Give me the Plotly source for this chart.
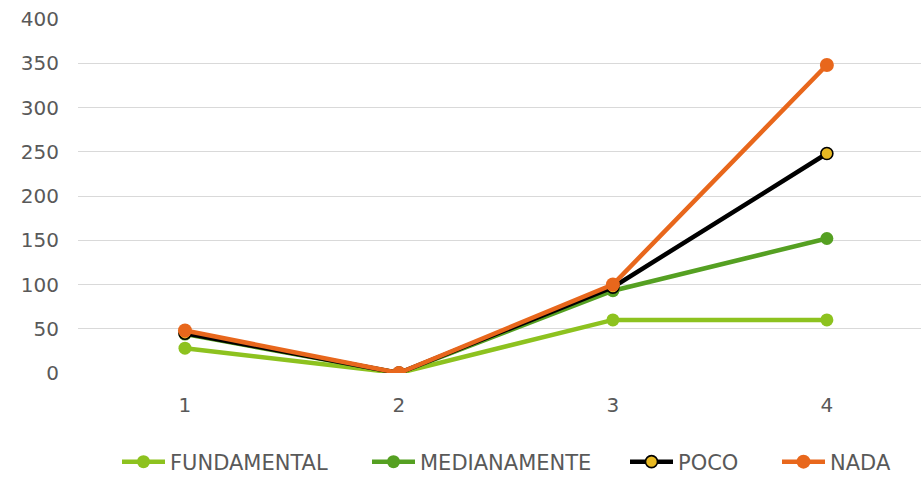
import plotly.graph_objects as go

categories = ["1", "2", "3", "4"]
fundamental = [28, 0, 60, 60]
medianamente = [44, 0, 93, 152]
poco = [45, 0, 97, 248]
nada = [48, 0, 100, 348]
y_ticks = [0, 50, 100, 150, 200, 250, 300, 350, 400]

x = [1, 2, 3, 4]
fig = go.Figure()

W, H = 921, 478

def add(name, vals, color, legend, mcolor=None, mline=None, size=13):
    fig.add_trace(go.Scatter(
        x=x, y=vals, name=name, mode="lines+markers", legend=legend,
        line=dict(color=color, width=4.5),
        marker=dict(size=size, color=mcolor or color,
                    line=dict(color=mline or (mcolor or color), width=1.6 if mline else 0)),
    ))

add("FUNDAMENTAL", fundamental, "#8DC21F", "legend")
add("MEDIANAMENTE", medianamente, "#55A022", "legend2")
add("POCO", poco, "#000000", "legend3", mcolor="#E8B923", mline="#000000", size=12)
add("NADA", nada, "#E8671C", "legend4", size=14)

font_family = "DejaVu Sans, sans-serif"
leg_font = dict(family=font_family, size=21, color="#595959")

def leg(px):
    return dict(xref="container", yref="container", x=px / W, y=(H - 462) / H,
                xanchor="left", yanchor="middle", orientation="h",
                font=leg_font, itemwidth=43, bgcolor="rgba(0,0,0,0)",
                borderwidth=0)

fig.update_layout(
    width=W, height=H,
    margin=dict(l=78, r=0, t=19, b=105),
    plot_bgcolor="white", paper_bgcolor="white",
    font=dict(family=font_family, size=20, color="#595959"),
    showlegend=True,
    legend=leg(117), legend2=leg(367), legend3=leg(625), legend4=leg(777),
    xaxis=dict(tickmode="array", tickvals=x, ticktext=categories, range=[0.5, 4.44],
               showgrid=False, zeroline=False, showline=False, ticks="",
               ticklabelstandoff=18),
    yaxis=dict(range=[0, 400], tickvals=y_ticks, showgrid=True, gridcolor="#D9D9D9",
               gridwidth=1.3, zeroline=False, showline=False, ticks="",
               ticklabelstandoff=18),
)
fig.write_html("out.html", config={"displayModeBar": False},
               post_script="document.body.style.margin='0';")
